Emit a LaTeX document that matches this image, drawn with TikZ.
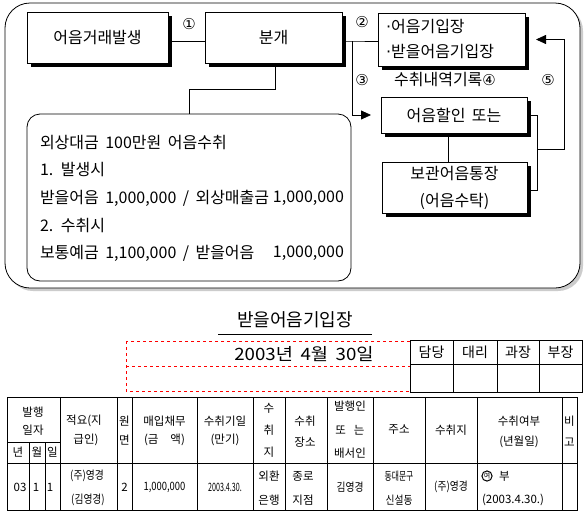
\documentclass[tikz,border=0pt]{standalone}
\usepackage{fontspec}
\setmainfont{Noto Sans CJK KR}[WordSpace=1.8]
\newfontfamily\dvfont{DejaVu Sans}
\usetikzlibrary{shadows,arrows.meta}
\newcommand{\fsz}[1]{\fontsize{#1}{#1}\selectfont}
\begin{document}
\begin{tikzpicture}[x=1pt,y=-1pt,
 every node/.style={inner sep=0pt, outer sep=0pt},
 ln/.style={line width=0.8pt},
 box/.style={draw, line width=0.8pt, fill=white, general shadow={fill=black, shadow xshift=3.5pt, shadow yshift=-3.5pt}, font=\fsz{16}},
 txt/.style={font=\fsz{16}, anchor=west},
 num/.style={font=\dvfont\fsz{15}},
 cell/.style={font=\fsz{11.5}},
 arr/.style={-{Triangle[length=10pt,width=9pt]}, line width=0.8pt}]
\useasboundingbox (0,0) rectangle (588,517);
\fill[white] (0,0) rectangle (588,517);

% top panel
\node[draw, line width=0.8pt, fill=white, rounded corners=25pt, minimum width=575pt, minimum height=285pt,
  general shadow={fill=black!20, shadow xshift=3pt, shadow yshift=-3pt}] (panel) at (292.5,145.5) {};

\node[box, minimum width=141pt, minimum height=51pt] (b1) at (97.5,37.5) {어음거래발생};
\node[box, minimum width=137pt, minimum height=51pt] (b2) at (273.5,37.5) {분개};
\node[box, minimum height=53pt, text width=131pt, inner xsep=8pt, align=left, font=\fontsize{16}{25}\selectfont] (b3) at (451.5,39.5) {{\dvfont ·}어음기입장\\{\dvfont ·}받을어음기입장};
\node[box, minimum width=146pt, minimum height=36pt] (b4) at (454,115) {어음할인 또는};
\node[box, minimum width=145pt, minimum height=51pt, align=center, font=\fontsize{16}{27}\selectfont] (b5) at (454.5,187.5) {보관어음통장\\(어음수탁)};
\node[draw, line width=0.8pt, fill=white, rounded corners=13pt, minimum width=324pt, minimum height=167pt] (tb) at (189,197.5) {};

\node[txt] (l1) at (40,143) {외상대금 100만원 어음수취};
\node[txt] (l2) at (40,170) {1. 발생시};
\node[txt] (l3a) at (40,198) {받을어음 1,000,000 / 외상매출금};
\node[txt, anchor=east] (l3b) at (344,198) {1,000,000};
\node[txt] (l4) at (40,226) {2. 수취시};
\node[txt] (l5a) at (40,253) {보통예금 1,100,000 / 받을어음};
\node[txt, anchor=east] (l5b) at (344,253) {1,000,000};

% connectors
\draw[ln] ([yshift=-3.5pt]b1.east) -- ([yshift=-3.5pt]b2.west);
\node[num] (n1) at (189,24) {①};
\coordinate (c1) at (275,89);
\draw[ln] (b2.south -| c1) -- (c1) -| (tb.north);
\coordinate (j) at (352,41);
\draw[ln] ([yshift=-3.5pt]b2.east) -- (j) -- (b3.west |- j);
\draw[arr, shorten >=10pt] (j) |- (b4.west);
\node[num] (n2) at (362,22) {②};
\node[num] (n3) at (362,80) {③};
\node[font=\fsz{16}] (rec) at (445,80) {수취내역기록{\dvfont\fsz{15}④}};
\node[num] (n5) at (548,80) {⑤};
\coordinate (v) at (448,0);
\draw[ln] (b4.south -| v) -- (b5.north -| v);
\coordinate (k) at (537,149);
\coordinate (m) at (564,149);
\draw[ln] (b4.east) -| (k);
\draw[ln] ([yshift=-2.5pt]b5.east) -| (k);
\draw[arr, shorten >=11pt] (k) -- (m) |- (b3.east);

% lower part
\node[font=\fsz{18}] (title) at (295,320) {받을어음기입장};
\draw[ln] (218,334) -- (372,334);
\draw[red, line width=0.8pt, dash pattern=on 3pt off 3pt] (126,341) rectangle (410,391) (126,366) -- (410,366);
\node[font=\fsz{17}] (date) at (304,354) {\scalebox{1.1}[1]{2003년 4월 30일}};

\draw[ln, fill=white] (410,340) rectangle (582,392);
\draw[ln] (410,364) -- (582,364) (453,340) -- (453,392) (497,340) -- (497,392) (539,340) -- (539,392);
\node[font=\fsz{14}] (a1) at (431.5,352) {담당};
\node[font=\fsz{14}] (a2) at (475,352) {대리};
\node[font=\fsz{14}] (a3) at (518,352) {과장};
\node[font=\fsz{14}] (a4) at (560.5,352) {부장};

% main table
\draw[ln] (7,397) rectangle (577,510);
\draw[ln] (7,463) -- (577,463) (7,442) -- (60,442);
\foreach \x in {60,117,132,197,253,285,327,373,425,477,562} \draw[ln] (\x,397) -- (\x,510);
\draw[ln] (29,442) -- (29,510) (45,442) -- (45,510);

\node[cell] (h1a) at (33,412) {발행};
\node[cell] (h1b) at (33,430) {일자};
\node[cell] (h1c) at (18,452) {년};
\node[cell] (h1d) at (37,452) {월};
\node[cell] (h1e) at (52.5,452) {일};
\node[cell] (h2a) at (84,421) {적요(지};
\node[cell] (h2b) at (86,440) {급인)};
\node[cell] (h3a) at (124.5,421) {원};
\node[cell] (h3b) at (124.5,440) {면};
\node[cell] (h4a) at (164.5,421) {매입채무};
\node[cell] (h4b) at (164.5,440) {(금\hspace{12pt}액)};
\node[cell] (h5a) at (225,421) {수취기일};
\node[cell] (h5b) at (225,440) {(만기)};
\node[cell] (h6a) at (269,408) {수};
\node[cell] (h6b) at (269,430) {취};
\node[cell] (h6c) at (269,452) {지};
\node[cell] (h7a) at (305,421) {수취};
\node[cell] (h7b) at (305,442) {장소};
\node[cell] (h8a) at (350,406) {발행인};
\node[cell] (h8b) at (350,430) {또\hspace{8pt}는};
\node[cell] (h8c) at (350,453) {배서인};
\node[cell] (h9) at (399,430) {주소};
\node[cell] (h10) at (451,430) {수취지};
\node[cell] (h11a) at (519,421) {수취여부};
\node[cell] (h11b) at (519,442) {(년월일)};
\node[cell] (h12a) at (569.5,421) {비};
\node[cell] (h12b) at (569.5,442) {고};

\node[cell] (d1) at (20,487) {03};
\node[cell] (d2) at (36,487) {1};
\node[cell] (d3) at (50,487) {1};
\node[cell] (d4a) at (87,476) {\scalebox{0.85}[1]{(주)영경}};
\node[cell] (d4b) at (88,500) {\scalebox{0.85}[1]{(김영경)}};
\node[cell] (d5) at (124.5,487) {2};
\node[cell] (d6) at (164.5,487) {\scalebox{0.82}[1]{1,000,000}};
\node[cell] (d7) at (225,487) {\scalebox{0.62}[1]{2003.4.30.}};
\node[cell] (d8a) at (269,476) {외환};
\node[cell] (d8b) at (269,500) {은행};
\node[cell] (d9a) at (303,476) {종로};
\node[cell] (d9b) at (303,500) {지점};
\node[cell] (d10) at (350,487) {\scalebox{0.85}[1]{김영경}};
\node[cell] (d11a) at (399,476) {\scalebox{0.68}[1]{동대문구}};
\node[cell] (d11b) at (399,500) {\scalebox{0.85}[1]{신설동}};
\node[cell] (d12) at (451,487) {\scalebox{0.85}[1]{(주)영경}};
\node[draw, circle, line width=1pt, inner sep=0.4pt, font=\fsz{7}] (d13) at (487,476) {여};
\node[cell, anchor=west] (d13b) at (499,476) {부};
\node[cell, anchor=west] (d14) at (482,500) {(2003.4.30.)};
\end{tikzpicture}
\end{document}
